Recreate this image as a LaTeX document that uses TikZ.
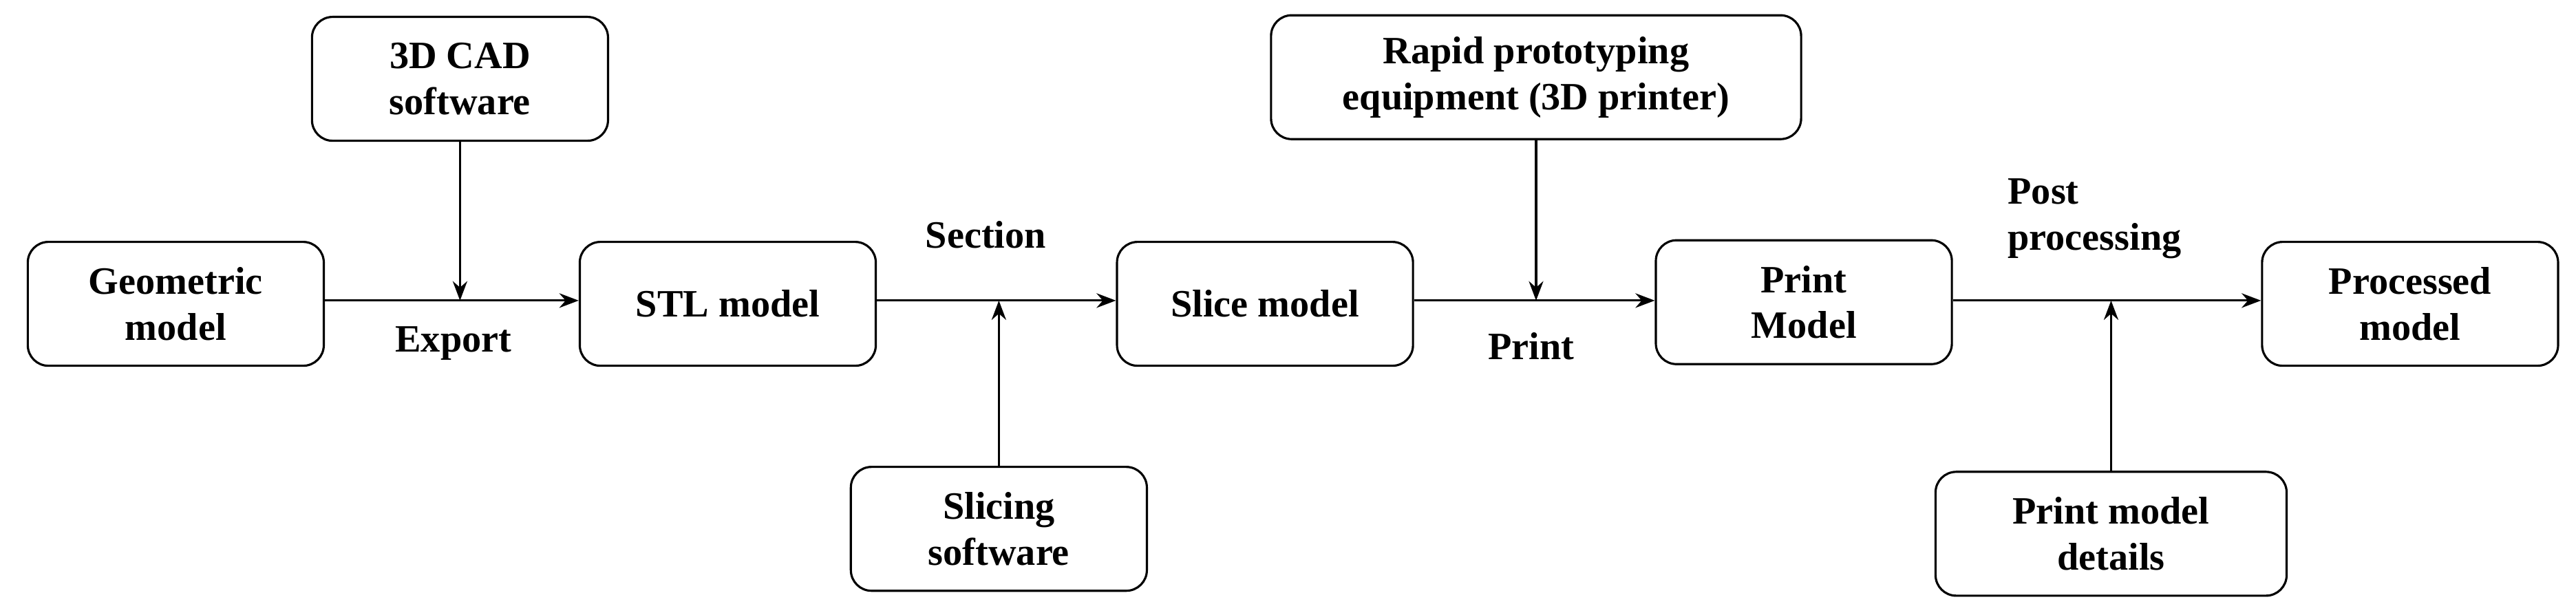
\documentclass[tikz,border=0pt]{standalone}
\usepackage{fontspec}
\setmainfont{Liberation Serif}
\usetikzlibrary{arrows.meta}
\usetikzlibrary{calc}

\tikzset{
  stage/.style={draw,line width=0.9pt,rounded corners=0.3cm,align=center,
    minimum width=4.3cm,minimum height=1.8cm,font=\fontsize{16}{19}\selectfont\bfseries},
  lbl/.style={font=\fontsize{16}{19}\selectfont\bfseries,align=left},
  flow/.style={line width=0.9pt,-{Stealth[length=8pt,width=6pt]}}
}

\begin{document}
\begin{tikzpicture}[x=0.02387cm,y=-0.02387cm]
    \useasboundingbox (0,0) rectangle (1568,373);
    % main chain
    \node[stage] (geo) at (107,185) {Geometric\\model};
    \node[stage] (stl) at (443,185) {STL model};
    \node[stage] (slice) at (770,185) {Slice model};
    \node[stage] (print) at (1098,184) {Print\\Model};
    \node[stage] (proc) at (1467,185) {Processed\\model};
    % inputs
    \node[stage] (cad) at (280,48) {3D CAD\\software};
    \node[stage] (slsw) at (608,322) {Slicing\\software};
    \node[stage,minimum width=7.7cm] (rp) at (935,47) {Rapid prototyping\\equipment (3D printer)};
    \node[stage,minimum width=5.1cm] (det) at (1285,325) {Print model\\details};
    % joints on the flow line
    \coordinate (j1) at (280,183);
    \coordinate (j2) at (608,183);
    \coordinate (j3) at (935,183);
    \coordinate (j4) at (1285,183);
    \draw[flow] (geo.east |- j1) -- (stl.west |- j1);
    \draw[flow] (stl.east |- j2) -- (slice.west |- j2);
    \draw[flow] (slice.east |- j3) -- (print.west |- j3);
    \draw[flow] (print.east |- j4) -- (proc.west |- j4);
    \draw[flow] (cad.south) -- (j1);
    \draw[flow] (slsw.north) -- (j2);
    \draw[flow] (rp.south) -- (j3);
    \draw[flow] (det.north) -- (j4);
    % labels
    \node[lbl] (exp) at (276,209) {Export};
    \node[lbl] (sec) at (600,143) {Section};
    \node[lbl] (prt) at (932,211) {Print};
    \node[lbl] (post) at (1275,133) {Post\\processing};
\end{tikzpicture}
\end{document}
